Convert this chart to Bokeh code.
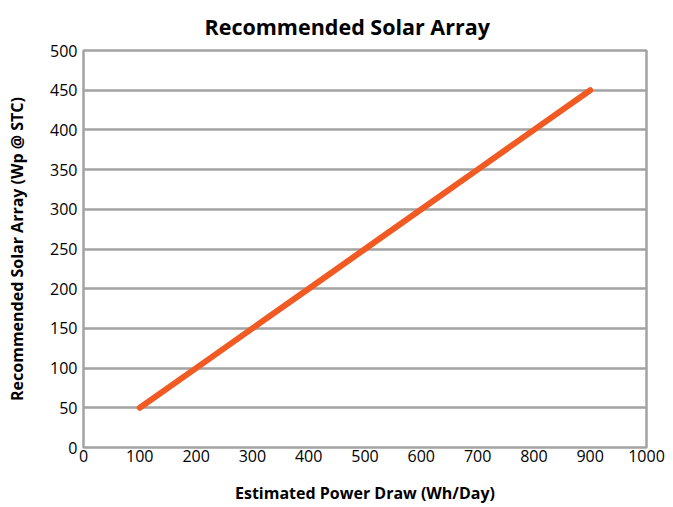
from bokeh.plotting import figure
from bokeh.embed import file_html
from bokeh.resources import INLINE
from bokeh.models import FixedTicker, Range1d

power_draw = [100, 200, 300, 400, 500, 600, 700, 800, 900]
solar_array = [50, 100, 150, 200, 250, 300, 350, 400, 450]
x_ticks = [0, 100, 200, 300, 400, 500, 600, 700, 800, 900, 1000]
y_ticks = [0, 50, 100, 150, 200, 250, 300, 350, 400, 450, 500]
title_text = "Recommended Solar Array"

FONT = "Open Sans"
GRAY = "#a3a3a3"

p = figure(width=673, height=507, output_backend="svg", toolbar_location=None,
           x_range=Range1d(0, 1000), y_range=Range1d(0, 500),
           min_border_left=83, min_border_right=27, min_border_top=50, min_border_bottom=60,
           title=title_text)

p.title.align = "left"
p.title.offset = 121
p.title.text_font = FONT
p.title.text_font_size = "21.5px"
p.title.text_font_style = "bold"
p.title.text_color = "black"
p.title.text_line_height = 0.5
p.title.standoff = 19

p.line(power_draw, solar_array, line_color="#f15a22", line_width=6, line_cap="round")

p.outline_line_color = GRAY
p.outline_line_width = 2.5
p.outline_line_alpha = 1

p.xgrid.grid_line_color = None
p.ygrid.grid_line_color = GRAY
p.ygrid.grid_line_width = 2.5
p.ygrid.ticker = FixedTicker(ticks=y_ticks)

for ax in (p.xaxis[0], p.yaxis[0]):
    ax.axis_line_color = None
    ax.major_tick_line_color = None
    ax.minor_tick_line_color = None
    ax.major_label_text_font = FONT
    ax.major_label_text_font_size = "16px"
    ax.major_label_text_color = "black"
    ax.axis_label_text_font = FONT
    ax.axis_label_text_font_size = "16px"
    ax.axis_label_text_font_style = "bold"
    ax.axis_label_text_color = "black"

p.xaxis.ticker = FixedTicker(ticks=x_ticks)
p.yaxis.ticker = FixedTicker(ticks=y_ticks)
p.xaxis.axis_label = "Estimated Power Draw (Wh/Day)"
p.yaxis.axis_label = "Recommended Solar Array (Wp @ STC)"
p.xaxis.major_label_standoff = -4
p.yaxis.major_label_standoff = 0
p.xaxis.axis_label_standoff = 17
p.yaxis.axis_label_standoff = 19

open("out.html", "w").write(file_html(p, INLINE))
